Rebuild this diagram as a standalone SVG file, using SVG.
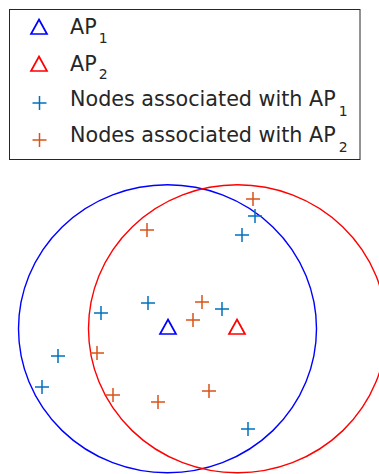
<svg xmlns="http://www.w3.org/2000/svg" xmlns:xlink="http://www.w3.org/1999/xlink" width="379" height="474" viewBox="0 0 379 474">
  <style>
    .lbl { font-family: "DejaVu Sans", "Liberation Sans", sans-serif; font-size: 20.7px; fill: #262626; }
    .sub { font-size: 14px; }
    .ap1 { fill: none; stroke: #0000ff; stroke-width: 1.7; }
    .ap2 { fill: none; stroke: #ff0000; stroke-width: 1.7; }
    .n1 { fill: none; stroke: #0072bd; stroke-width: 1.5; }
    .n2 { fill: none; stroke: #d95319; stroke-width: 1.5; }
    .ring1 { fill: none; stroke: #0000ff; stroke-width: 1.4; }
    .ring2 { fill: none; stroke: #ff0000; stroke-width: 1.4; }
  </style>
  <defs>
    <path id="tri" d="M0,-7.5 L8,7 L-8,7 Z"/>
    <path id="plus" d="M-7,0H7M0,-7V7"/>
  </defs>
  <rect width="379" height="474" fill="#ffffff"/>

  <g id="coverage">
    <ellipse id="range-ap1" class="ring1" cx="167.5" cy="328.8" rx="149" ry="144"/>
    <ellipse id="range-ap2" class="ring2" cx="237.5" cy="328.8" rx="149" ry="144"/>
  </g>

  <g id="nodes-ap1" class="n1">
    <use xlink:href="#plus" x="255" y="216"/>
    <use xlink:href="#plus" x="242" y="235"/>
    <use xlink:href="#plus" x="148" y="303"/>
    <use xlink:href="#plus" x="222" y="309"/>
    <use xlink:href="#plus" x="101" y="313"/>
    <use xlink:href="#plus" x="58" y="356"/>
    <use xlink:href="#plus" x="42" y="387"/>
    <use xlink:href="#plus" x="248" y="429"/>
  </g>
  <g id="nodes-ap2" class="n2">
    <use xlink:href="#plus" x="253" y="199"/>
    <use xlink:href="#plus" x="147" y="230"/>
    <use xlink:href="#plus" x="202" y="302"/>
    <use xlink:href="#plus" x="193" y="320"/>
    <use xlink:href="#plus" x="97" y="353"/>
    <use xlink:href="#plus" x="113" y="395"/>
    <use xlink:href="#plus" x="158" y="402"/>
    <use xlink:href="#plus" x="209" y="391"/>
  </g>

  <g id="ap1"><use xlink:href="#tri" class="ap1" x="168" y="327"/></g>
  <g id="ap2"><use xlink:href="#tri" class="ap2" x="237" y="327"/></g>

  <g id="legend">
    <rect x="9.5" y="9.5" width="350.5" height="150" fill="#ffffff" stroke="#262626" stroke-width="1"/>
    <use xlink:href="#tri" class="ap1" x="39" y="27"/>
    <text class="lbl" x="70" y="34">AP<tspan class="sub" dx="2" dy="8.5">1</tspan></text>
    <use xlink:href="#tri" class="ap2" x="39" y="64"/>
    <text class="lbl" x="70" y="70.5">AP<tspan class="sub" dx="2" dy="8.5">2</tspan></text>
    <use xlink:href="#plus" class="n1" x="39.5" y="103"/>
    <text class="lbl" x="70" y="106">Nodes associated with AP<tspan class="sub" dx="3" dy="9.5">1</tspan></text>
    <use xlink:href="#plus" class="n2" x="39.5" y="140"/>
    <text class="lbl" x="70" y="142">Nodes associated with AP<tspan class="sub" dx="3" dy="9.5">2</tspan></text>
  </g>
</svg>
